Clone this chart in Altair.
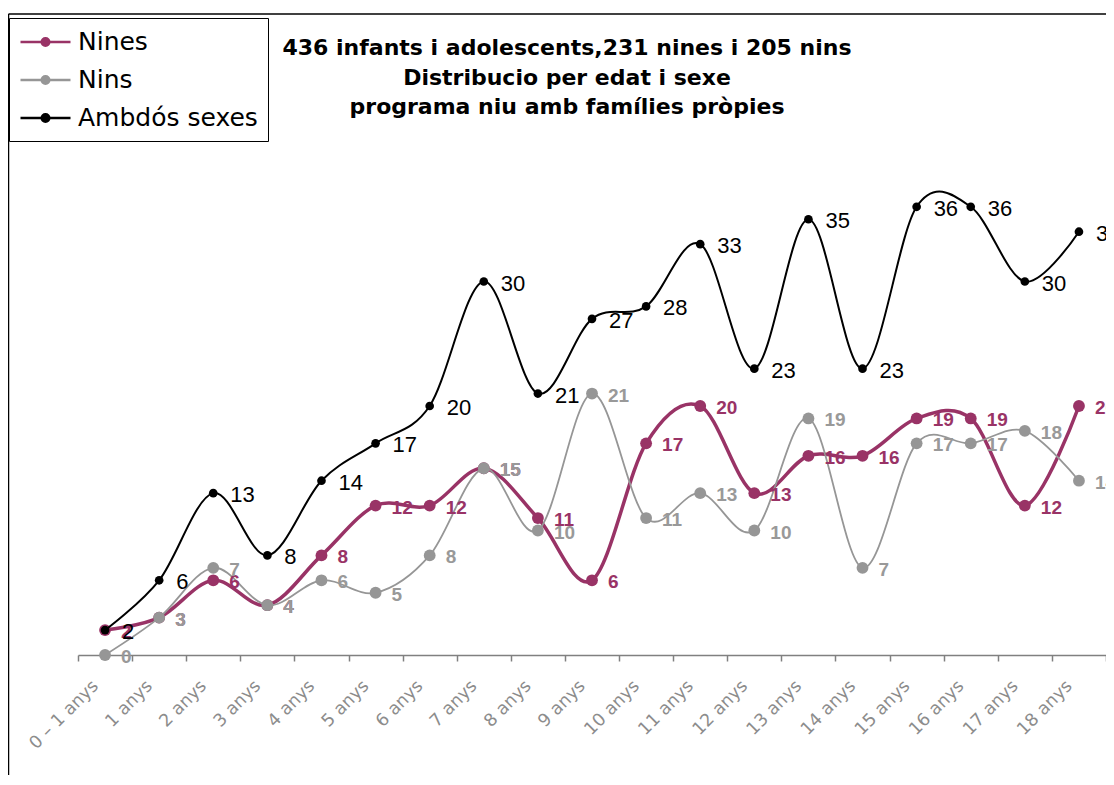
import altair as alt
import pandas as pd

categories = ["0 – 1 anys", "1 anys", "2 anys", "3 anys", "4 anys", "5 anys", "6 anys",
              "7 anys", "8 anys", "9 anys", "10 anys", "11 anys", "12 anys", "13 anys",
              "14 anys", "15 anys", "16 anys", "17 anys", "18 anys"]
nines = [2, 3, 6, 4, 8, 12, 12, 15, 11, 6, 17, 20, 13, 16, 16, 19, 19, 12, 20]
nins = [0, 3, 7, 4, 6, 5, 8, 15, 10, 21, 11, 13, 10, 19, 7, 17, 17, 18, 14]
ambdos = [2, 6, 13, 8, 14, 17, 20, 30, 21, 27, 28, 33, 23, 35, 23, 36, 36, 30, 34]
series_names = ["Nines", "Nins", "Ambdós sexes"]
series_colors = ["#993366", "#969696", "#000000"]
title_lines = ["436 infants i adolescents,231 nines i 205 nins",
               "Distribucio per edat i sexe",
               "programa niu amb famílies pròpies"]

rows = []
for s, vals in zip(series_names, [nines, nins, ambdos]):
    for c, v in zip(categories, vals):
        rows.append({"edat": c, "valor": v, "serie": s})
df = pd.DataFrame(rows)
title_df = pd.DataFrame({"titol": [0]})


def circ(cx, r):
    return f"M{cx - r},0A{r},{r} 0 1,0 {cx + r},0A{r},{r} 0 1,0 {cx - r},0"


# legend symbol: line with a dot (1 unit = 12.5px when symbolSize=625)
legend_path = "M-1,0H3" + circ(1, 0.1) + circ(1, 0.2) + circ(1, 0.3)

x_enc = alt.X("edat:N", bandPosition=0.5,
              scale=alt.Scale(type="band", domain=categories, paddingInner=0, paddingOuter=0),
              axis=alt.Axis(title=None, labelAngle=-45, labelAlign="right", labelBaseline="middle",
                            labelFont="DejaVu Sans", labelFontSize=17.5, labelColor="#8c8c8c",
                            tickBand="extent", tickSize=6, tickColor="#808080", tickWidth=1.5,
                            domainColor="#808080", domainWidth=1.5, labelPadding=22,
                            labelOffset=-10, grid=False))
y_enc = alt.Y("valor:Q", scale=alt.Scale(domain=[0, 40], nice=False), axis=None)
color_enc = alt.Color("serie:N", scale=alt.Scale(domain=series_names, range=series_colors),
                      legend=alt.Legend(orient="none", legendX=-69, legendY=-139, title=None,
                                        symbolType=legend_path, symbolSize=625,
                                        symbolStrokeWidth=2.5, labelFont="DejaVu Sans",
                                        labelFontSize=25, labelColor="black", labelOffset=31,
                                        labelLimit=400, strokeColor="black", fillColor="white",
                                        padding=10, rowPadding=11, direction="vertical"))

base = alt.Chart(df).encode(x=x_enc, y=y_enc, color=color_enc)

widths = {"Nines": 3.5, "Nins": 1.8, "Ambdós sexes": 2}
psize = {"Nines": 140, "Nins": 140, "Ambdós sexes": 75}

layers = []
for s in series_names:
    sub = base.transform_filter(alt.datum.serie == s)
    layers.append(sub.mark_line(interpolate="cardinal", strokeWidth=widths[s]))
    layers.append(sub.mark_point(filled=True, opacity=1, size=psize[s]))

label_styles = {
    "Nines": dict(font="Liberation Sans", fontSize=19, fontWeight="bold", color="#993366", dx=16),
    "Nins": dict(font="Liberation Sans", fontSize=19, fontWeight="bold", color="#999999", dx=16),
    "Ambdós sexes": dict(font="Liberation Sans", fontSize=22, fontWeight="normal", color="#000000", dx=17),
}
for s in series_names:
    layers.append(
        alt.Chart(df).transform_filter(alt.datum.serie == s)
        .mark_text(align="left", baseline="middle", dy=2, **label_styles[s])
        .encode(x=x_enc, y=y_enc, text="valor:Q")
    )

title_layer = alt.Chart(title_df).mark_text(
    align="center", baseline="top", font="DejaVu Sans", fontSize=22, fontWeight="bold",
    color="black", lineHeight=29.5
).encode(x=alt.value(489), y=alt.value(-119), text=alt.value(title_lines))

frame_left = alt.Chart(title_df).mark_rule(color="black", strokeWidth=1.5).encode(
    x=alt.value(-69.5), y=alt.value(-143), y2=alt.value(640))
frame_top = alt.Chart(title_df).mark_rule(color="black", strokeWidth=1.5).encode(
    x=alt.value(-69.5), x2=alt.value(1100), y=alt.value(-143))

chart = alt.layer(frame_left, frame_top, title_layer, *layers).properties(
    width=1028, height=498,
    background="white",
    autosize=alt.AutoSizeParams(type="none"),
    padding={"left": 70, "top": 149, "right": 0, "bottom": 120},
).configure_view(stroke=None)

chart.save("out.html", embed_options={"renderer": "svg", "actions": False})
